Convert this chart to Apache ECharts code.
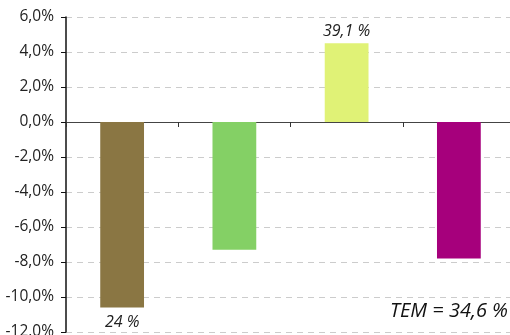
<!DOCTYPE html>
<html>
<head>
<meta charset="utf-8">
<script src="https://cdn.jsdelivr.net/npm/echarts@6/dist/echarts.min.js"></script>
<style>
  html, body { margin: 0; padding: 0; background: #fff; }
  #chart { width: 510px; height: 335px; }
</style>
</head>
<body>
<div id="chart"></div>
<script>
// 数据
const categories = ['A', 'B', 'C', 'D'];
const values = [-10.6, -7.3, 4.5, -7.8];
const barLabels = ['24 %', '', '39,1 %', ''];
const barColors = ['#8a7643', '#84d065', '#e0f276', '#a6007c'];
const noteText = 'TEM = 34,6 %';

const chart = echarts.init(document.getElementById('chart'));

const option = {
  animation: false,
  textStyle: { fontFamily: 'Open Sans' },
  grid: { left: 66, top: 17, width: 449, height: 315, outerBoundsMode: 'none', containLabel: false },
  xAxis: {
    type: 'category',
    data: categories,
    axisLine: { onZero: true, lineStyle: { color: '#444', width: 1.2 } },
    axisTick: { show: true, inside: false, length: 5, lineStyle: { color: '#333' } },
    axisLabel: { show: false },
    splitLine: { show: false }
  },
  yAxis: {
    type: 'value',
    min: -12,
    max: 6,
    interval: 2,
    axisLine: { show: true, lineStyle: { color: '#111', width: 1.5 } },
    axisTick: { show: true, length: 5, lineStyle: { color: '#111' } },
    axisLabel: {
      color: '#222',
      fontSize: 15.5,
      margin: 12,
      formatter: v => v.toFixed(1).replace('.', ',') + '%'
    },
    splitLine: { lineStyle: { color: '#cccccc', type: [6, 5] } }
  },
  series: [
    {
      type: 'bar',
      barWidth: '39%',
      data: values.map((v, i) => ({
        value: v,
        itemStyle: { color: barColors[i] },
        label: {
          show: barLabels[i] !== '',
          position: v < 0 ? 'bottom' : 'top',
          distance: v < 0 ? 7 : 4,
          formatter: barLabels[i],
          color: '#222',
          fontSize: 16,
          fontStyle: 'italic'
        }
      }))
    }
  ],
  graphic: [
    {
      type: 'text',
      right: 2,
      top: 301,
      style: {
        text: noteText,
        fill: '#111',
        font: 'italic 20px "Open Sans"'
      }
    }
  ]
};

chart.setOption(option);
</script>
</body>
</html>
